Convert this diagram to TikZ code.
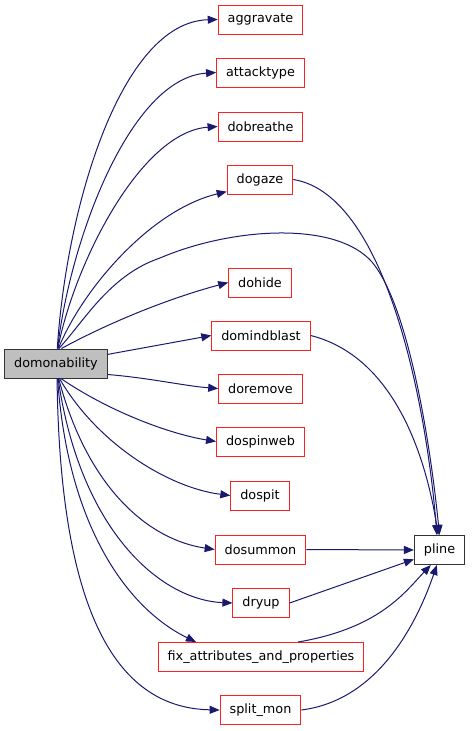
\documentclass[tikz,border=0pt]{standalone}
\usepackage{fontspec}
\setmainfont{DejaVu Sans}
\usepackage{xcolor}
\usetikzlibrary{arrows.meta, positioning}
\definecolor{edgeblue}{HTML}{191970}
\definecolor{boxred}{HTML}{FF2020}

\begin{document}
\begin{tikzpicture}[
  x=1pt, y=-1pt,
  every node/.style={font=\fontsize{12.8}{14}\selectfont, align=center},
  fn/.style={draw=boxred, line width=1pt, minimum height=29pt,
             inner xsep=9.5pt, inner ysep=0pt, fill=white},
  root/.style={draw=black!80, line width=1pt, minimum height=29pt,
               inner xsep=9.5pt, inner ysep=0pt, fill=black!25},
  leaf/.style={draw=black!80, line width=1pt, minimum height=29pt,
               inner xsep=9.5pt, inner ysep=0pt, fill=white},
  arr/.style={-{Triangle[length=10pt, width=8pt]}, edgeblue, line width=1pt},
]
  \useasboundingbox (0,0) rectangle (472,731);

  \node[root] (dom) at (56, 363.5) {domonability};

  \node[fn] (agg) at (260.5, 19.5) {aggravate};
  \node[fn] (att) at (260.5, 72.5) {attacktype};
  \node[fn] (dob) at (260.5, 126.5) {dobreathe};
  \node[fn] (dgz) at (260, 179.5) {dogaze};
  \node[fn] (dhd) at (260, 282.5) {dohide};
  \node[fn] (dmb) at (261, 335.5) {domindblast};
  \node[fn] (drm) at (260.5, 388.5) {doremove};
  \node[fn] (dsw) at (260.5, 441.5) {dospinweb};
  \node[fn] (dsp) at (260, 495.5) {dospit};
  \node[fn] (dsm) at (260.5, 549.5) {dosummon};
  \node[fn] (dry) at (261, 603) {dryup};
  \node[fn] (fix) at (261, 657) {fix\_attributes\_and\_properties};
  \node[fn] (spl) at (260.5, 710) {split\_mon};

  \node[leaf] (pln) at (439.5, 550) {pline};

  % calls from domonability
  \draw[arr] (dom.85) .. controls (66,210) and (120,22) .. (agg.west);
  \draw[arr] (dom.84) .. controls (70,240) and (130,78) .. (att.west);
  \draw[arr] (dom.83) .. controls (74,265) and (140,132) .. (dob.west);
  \draw[arr] (dom.81) .. controls (82,290) and (150,210) .. (dgz.200);
  \draw[arr] (dom.79) .. controls (85,320) and (110,275) .. (160,258)
       .. controls (230,228) and (335,220) .. (372,262)
       .. controls (408,305) and (430,440) .. (pln.north);
  \draw[arr] (dom.70) .. controls (110,322) and (170,298) .. (dhd.west);
  \draw[arr] (dom.10) -- (dmb.west);
  \draw[arr] (dom.348) .. controls (150,378) and (185,386) .. (drm.west);
  \draw[arr] (dom.-72) .. controls (110,412) and (170,434) .. (dsw.west);
  \draw[arr] (dom.-77) .. controls (98,445) and (170,488) .. (dsp.west);
  \draw[arr] (dom.-80) .. controls (88,490) and (150,540) .. (dsm.west);
  \draw[arr] (dom.-82) .. controls (80,530) and (160,600) .. (dry.west);
  \draw[arr] (dom.-84) .. controls (68,530) and (130,610) .. (fix.167);
  \draw[arr] (dom.-86) .. controls (60,620) and (120,708) .. (spl.west);

  % calls into pline
  \draw[arr] (dgz.east) .. controls (390,195) and (428,420) .. (pln.100);
  \draw[arr] (dmb.east) .. controls (400,358) and (428,470) .. (pln.95);
  \draw[arr] (dsm.east) -- (pln.west);
  \draw[arr] (dry.east) -- (pln.200);
  \draw[arr] (fix.22) .. controls (380,628) and (405,592) .. (pln.240);
  \draw[arr] (spl.east) .. controls (380,700) and (418,620) .. (pln.260);
\end{tikzpicture}
\end{document}
